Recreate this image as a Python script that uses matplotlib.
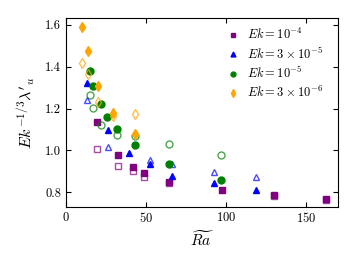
import matplotlib
matplotlib.use('Agg')
from matplotlib import pyplot as plt

plt.rcParams['font.family'] = 'cmr10'
plt.rcParams['mathtext.fontset'] = 'cm'
plt.rcParams['axes.formatter.use_mathtext'] = True
plt.rcParams['font.size'] = 9

# Ek = 1e-4 (purple squares)
ra_p = [19.6, 32.3, 41.7, 48.8, 64.6, 97.5, 130.0, 162.5]
lam_p = [1.138, 0.978, 0.922, 0.890, 0.850, 0.811, 0.787, 0.768]
ra_p_o = [19.6, 32.3, 41.7, 48.8, 64.6, 130.0, 162.5]
lam_p_o = [1.005, 0.927, 0.900, 0.874, 0.845, 0.783, 0.765]

# Ek = 3e-5 (blue triangles)
ra_b = [13.3, 26.0, 39.6, 52.5, 66.0, 92.5, 118.5]
lam_b = [1.323, 1.098, 0.988, 0.935, 0.879, 0.842, 0.811]
ra_b_o = [13.3, 26.4, 52.5, 66.0, 92.5, 118.5]
lam_b_o = [1.240, 1.015, 0.956, 0.935, 0.898, 0.871]

# Ek = 1e-5 (green circles)
ra_g = [15.0, 17.1, 21.7, 25.8, 32.1, 43.1, 64.6, 96.9]
lam_g = [1.380, 1.307, 1.220, 1.162, 1.101, 1.028, 0.935, 0.860]
ra_g_o = [15.0, 17.1, 21.7, 32.1, 43.1, 64.6, 96.9]
lam_g_o = [1.267, 1.202, 1.123, 1.074, 1.070, 1.030, 0.980]

# Ek = 3e-6 (orange diamonds)
ra_o = [9.8, 13.9, 19.8, 29.6, 43.1]
lam_o = [1.589, 1.475, 1.307, 1.180, 1.076]
ra_o_o = [9.8, 13.9, 19.8, 29.6, 43.1]
lam_o_o = [1.419, 1.364, 1.231, 1.165, 1.175]

labels = [r'$Ek=10^{-4}$', r'$Ek=3\times10^{-5}$',
          r'$Ek=10^{-5}$', r'$Ek=3\times10^{-6}$']

fig = plt.figure(figsize=(3.57, 2.68), dpi=100)
ax = fig.add_axes([0.185, 0.229, 0.762, 0.703])

sets = [
    (ra_p, lam_p, ra_p_o, lam_p_o, 'purple', 's', 5),
    (ra_b, lam_b, ra_b_o, lam_b_o, 'blue', '^', 5),
    (ra_g, lam_g, ra_g_o, lam_g_o, 'green', 'o', 5),
    (ra_o, lam_o, ra_o_o, lam_o_o, 'orange', 'd', 5.5),
]
for (x, y, xo, yo, c, m, ms), lab in zip(sets, labels):
    ax.plot(xo, yo, m, ls='none', mfc='none', mec=c, mew=1.0, ms=ms, alpha=0.7)
    ax.plot(x, y, m, ls='none', color=c, ms=ms, label=lab)

ax.set_xlim(0, 170)
ax.set_ylim(0.731, 1.632)
ax.set_xticks([0, 50, 100, 150])
ax.set_yticks([0.8, 1.0, 1.2, 1.4, 1.6])
ax.set_yticklabels(['0.8', '1.0', '1.2', '1.4', '1.6'])
ax.tick_params(direction='in', top=True, right=True)
ax.set_xlabel(r'$\widetilde{Ra}$', fontsize=11, labelpad=3)
ax.set_ylabel(r"$Ek^{-1/3}\lambda'_u$", fontsize=11.5, labelpad=6)
ax.legend(loc='upper left', bbox_to_anchor=(0.545, 1.012), frameon=False,
          markerscale=0.7, handlelength=1.2, handletextpad=0.5,
          labelspacing=0.3, fontsize=9)

fig.savefig('out.png', dpi=100)
